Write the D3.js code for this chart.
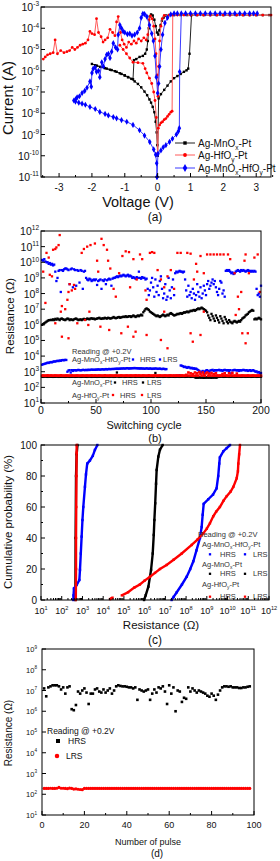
<!DOCTYPE html>
<html>
<head>
<meta charset="utf-8">
<script src="https://cdn.jsdelivr.net/npm/d3@7"></script>
<style>
  body { margin: 0; background: #fff; }
  svg { display: block; font-family: "Liberation Sans", Arial, sans-serif; }
</style>
</head>
<body>
<div id="chart"></div>
<script>
// ---------- DATA (log10 values) ----------

// (a) I-V sweeps: [voltage, log10 current], null = break in the line
const ivBlack = [
  [0,-10.0],[0.03,-7.3],[0.1,-7.1],[0.2,-6.9],[0.3,-6.7],[0.4,-6.5],[0.5,-6.35],[0.6,-6.25],[0.7,-6.15],[0.8,-6.05],[0.88,-5.98],[0.93,-5.9],[0.97,-5.2],[1.03,-3.38],
  [1.2,-3.38],[1.4,-3.38],[1.6,-3.38],[1.8,-3.38],[2.0,-3.38],[2.2,-3.38],[2.4,-3.38],[2.6,-3.38],[2.8,-3.38],[3.0,-3.38],[3.2,-3.38],[3.4,-3.38],
  null,
  [0.9,-3.38],[0.7,-3.38],[0.5,-3.38],[0.35,-3.38],[0.25,-3.4],[0.18,-3.5],[0.13,-3.65],[0.09,-3.85],[0.05,-4.1],[0.02,-4.3],[-0.02,-4.2],[-0.06,-3.9],[-0.1,-3.6],[-0.15,-3.4],[-0.2,-3.35],[-0.24,-3.45],[-0.27,-4.0],[-0.3,-4.6],[-0.33,-5.0],[-0.38,-5.2],[-0.45,-5.3],[-0.55,-5.35],[-0.65,-5.45],[-0.72,-5.5],
  [-0.75,-6.4],[-0.9,-6.3],[-1.0,-6.22],[-1.1,-6.15],[-1.25,-6.05],[-1.4,-5.97],[-1.55,-5.9],[-1.7,-5.82],[-1.85,-5.76],[-2.0,-5.68],
  [-1.9,-5.74],[-1.75,-5.82],[-1.6,-5.88],[-1.45,-5.95],[-1.3,-6.02],[-1.15,-6.12],[-1.0,-6.22],[-0.9,-6.3],[-0.8,-6.38],[-0.7,-6.5],[-0.6,-6.62],[-0.5,-6.78],[-0.4,-6.98],[-0.32,-7.15],[-0.25,-7.35],[-0.2,-7.5],[-0.15,-7.7],[-0.1,-7.95],[-0.06,-8.4],[-0.03,-8.9],[-0.01,-9.5],[0,-10.0]
];
const ivRed = [
  [0,-9.9],[0.02,-8.7],[0.06,-8.55],[0.1,-8.45],[0.15,-8.4],[0.2,-8.3],[0.25,-8.25],[0.3,-8.15],[0.35,-8.05],[0.4,-7.95],[0.44,-7.9],[0.46,-3.38],
  [0.6,-3.38],[0.8,-3.38],[1.0,-3.38],[1.2,-3.38],[1.4,-3.38],[1.6,-3.38],[1.8,-3.38],[2.0,-3.38],[2.2,-3.38],[2.4,-3.38],[2.6,-3.38],[2.8,-3.38],[3.0,-3.38],[3.2,-3.38],[3.45,-3.38],
  null,
  [0.35,-3.38],[0.2,-3.4],[0.14,-3.55],[0.1,-3.9],[0.06,-4.6],[0.03,-5.8],[0.01,-7.2],[-0.02,-6.2],[-0.05,-5.2],[-0.08,-4.5],[-0.12,-3.9],[-0.17,-3.55],[-0.22,-3.42],[-0.26,-3.6],[-0.3,-4.3],[-0.35,-4.55],[-0.42,-4.45],[-0.5,-4.6],[-0.58,-4.5],[-0.65,-4.7],[-0.72,-4.6],[-0.8,-4.75],[-0.88,-4.65],[-0.95,-4.9],[-1.02,-4.75],[-1.08,-4.55],[-1.13,-4.2],[-1.2,-3.45],[-1.25,-3.7],[-1.3,-4.35],[-1.37,-4.2],[-1.45,-4.05],[-1.52,-4.45],[-1.6,-4.55],[-1.66,-4.65],[-1.72,-4.4],[-1.8,-4.2],[-1.86,-3.55],[-1.92,-4.3],[-2.0,-4.25],[-2.06,-4.15],[-2.12,-4.55],[-2.2,-4.7],[-2.28,-4.75],[-2.36,-4.8],[-2.44,-4.9],[-2.52,-5.0],[-2.6,-4.9],[-2.68,-5.05],[-2.76,-5.1],[-2.85,-5.15],[-2.95,-5.05],[-3.05,-5.2],[-3.12,-4.55],[-3.18,-5.15],[-3.27,-5.2],[-3.35,-5.25],[-3.42,-5.35],[-3.48,-5.45],
  null,
  [-1.15,-4.8],[-1.05,-5.0],[-0.95,-5.2],[-0.85,-5.4],[-0.75,-5.6],[-0.6,-5.62],[-0.45,-5.65],[-0.38,-5.9],[-0.33,-6.1],[-0.25,-6.35],[-0.18,-6.6],[-0.12,-7.0],[-0.08,-7.4],[-0.04,-8.2],[0,-9.9]
];
const ivBlue = [
  [-0.02,-11],[0.01,-9.9],[0.1,-9.75],[0.17,-9.6],[0.25,-9.5],[0.36,-9.35],[0.45,-9.2],[0.57,-9.0],[0.63,-8.85],[0.66,-8.7],[0.67,-6.05],[0.72,-3.3],
  [0.85,-3.3],[1.0,-3.3],[1.15,-3.3],[1.3,-3.3],[1.45,-3.3],[1.6,-3.3],[1.75,-3.3],[1.9,-3.3],[2.05,-3.3],[2.2,-3.3],[2.35,-3.3],[2.5,-3.3],[2.65,-3.3],[2.8,-3.3],[2.92,-3.3],[3.03,-3.3],
  null,
  [0.6,-3.3],[0.5,-3.3],[0.4,-3.35],[0.3,-3.5],[0.22,-3.75],[0.15,-4.3],[0.1,-5.0],[0.06,-5.8],[0.03,-6.6],[0.0,-7.05],[-0.04,-6.3],[-0.08,-5.3],[-0.13,-4.6],[-0.18,-4.25],[-0.25,-3.85],[-0.33,-3.45],[-0.4,-3.33],[-0.45,-3.32],[-0.5,-3.5],[-0.55,-4.0],[-0.62,-4.2],[-0.7,-4.3],[-0.78,-4.35],[-0.85,-4.25],[-0.92,-4.28],[-1.0,-4.2],[-1.05,-4.15],[-1.1,-4.0],[-1.15,-3.85],[-1.2,-4.3],[-1.22,-5.0],[-1.28,-4.9],[-1.35,-4.7],[-1.4,-5.1],[-1.45,-5.4],[-1.5,-5.2],[-1.55,-5.25],[-1.6,-5.45],[-1.65,-5.8],[-1.7,-5.6],[-1.76,-6.3],[-1.8,-6.0],[-1.86,-6.05],[-1.9,-5.85],[-1.96,-5.9],[-2.0,-6.1],[-2.02,-6.75],[-2.06,-6.5],[-2.15,-6.8],[-2.22,-6.95],[-2.3,-7.05],[-2.38,-7.2],[-2.45,-7.25],[-2.5,-7.35],[-2.55,-7.4],
  [-2.5,-7.45],[-2.4,-7.5],[-2.3,-7.55],[-2.2,-7.6],[-2.06,-7.7],[-1.9,-7.8],[-1.76,-7.94],[-1.6,-8.03],[-1.5,-8.1],[-1.35,-8.18],[-1.25,-8.24],[-1.1,-8.32],[-0.94,-8.4],[-0.75,-8.55],[-0.55,-8.8],[-0.4,-9.05],[-0.24,-9.35],[-0.12,-9.7],[-0.06,-9.95],[-0.03,-10.35],[-0.02,-11]
];
const deviceNames = ["Ag-MnO_x-Pt", "Ag-HfO_y-Pt", "Ag-MnO_x-HfO_y-Pt"];

// (b) endurance, log10 resistance per cycle 1..200
const blueHrsB = [
  10.15,10.1,10.2,10.05,10.0,10.0,9.9,9.95,9.85,9.9,9.8,9.85,
  9.4,8.8,9.0,
  9.45,9.5,8.1,9.5,9.45,9.55,9.6,9.6,9.55,9.5,8.6,9.55,9.6,8.4,9.55,9.5,8.5,9.5,9.45,8.7,9.5,9.45,8.3,9.4,9.45,
  9.0,8.9,8.85,8.95,8.9,8.8,8.85,8.9,8.85,8.9,8.55,8.8,8.85,8.9,8.3,8.85,8.8,8.9,8.6,8.85,8.9,8.95,8.9,8.5,8.95,9.0,
  9.0,9.05,9.1,9.05,9.1,9.15,9.1,9.15,9.2,9.15,9.1,9.15,9.2,9.1,9.15,9.1,9.0,9.05,9.0,8.95,9.05,9.0,9.4,9.0,8.95,9.05,9.0,9.0,8.9,8.95,
  8.3,7.9,8.2,8.7,9.0,8.4,7.8,8.9,8.1,8.5,7.9,8.8,9.1,8.3,7.7,8.0,8.6,7.6,7.8,9.0,8.2,7.7,8.4,8.9,7.9,9.3,9.4,9.35,9.4,9.45,9.4,
  9.4,9.35,9.4,8.9,8.2,7.8,8.5,7.9,8.1,7.7,8.3,8.0,7.6,7.9,8.6,8.1,7.8,8.4,7.7,8.0,8.5,8.2,7.9,8.6,8.8,8.3,8.5,8.7,8.9,8.6,8.8,8.4,8.1,7.9,8.3,8.8,8.7,8.0,8.2,7.8,
  9.45,9.5,9.45,9.5,9.4,9.3,9.35,9.25,9.3,9.4,9.45,9.5,9.45,9.4,9.5,9.45,9.5,9.45,9.4,9.45,9.5,9.45,9.45,9.4,9.45,9.4,9.45,9.4,8.3,7.9,8.0,7.8,8.5
];
const blueLrsB = [
  3.45,3.48,3.5,3.52,3.55,3.58,3.56,3.6,3.62,3.6,3.64,3.66,3.65,3.68,3.7,3.68,3.72,3.7,3.74,3.75,3.73,3.76,3.75,
  3.0,3.08,3.1,2.95,3.1,3.05,3.1,
  3.1,3.08,3.1,3.12,3.1,3.09,3.1,3.12,3.11,3.1,3.12,3.1,3.13,3.11,3.12,3.14,3.12,3.13,3.12,3.14,
  3.13,3.15,3.14,3.13,3.15,3.16,3.14,3.15,3.17,3.15,3.16,3.18,3.16,3.17,3.18,3.17,3.19,3.18,3.2,3.18,
  3.2,3.19,3.21,3.2,3.22,3.2,3.21,3.23,3.22,3.2,3.22,3.21,3.23,3.22,3.24,3.22,3.23,3.21,3.22,3.2,
  3.22,3.2,3.21,3.19,3.2,3.22,3.2,3.19,3.21,3.2,3.18,3.2,3.19,3.21,3.2,3.18,3.19,3.2,3.18,3.17,3.19,3.18,3.16,3.17,
  2.72,2.7,2.75,2.7,2.72,2.68,2.74,2.7,2.72,2.75,2.7,2.78,
  3.4,3.38,3.35,3.3,3.32,3.28,3.25,3.3,3.27,3.22,3.25,3.2,3.22,3.18,3.2,3.15,
  3.1,3.05,2.95,3.0,3.05,2.9,3.02,3.08,3.1,3.05,3.0,3.08,3.1,3.12,3.05,3.1,3.08,3.1,
  3.1,3.12,3.08,3.1,3.05,3.1,3.12,3.1,3.08,3.1,3.05,3.1,2.9,3.08,3.1,3.12,3.1,3.08,3.1,3.05,
  3.1,3.08,3.1,3.12,3.1,3.08,3.1,3.05,3.08,3.1,3.05,3.08,3.1,3.05,3.0,3.02,2.95,2.98,2.9,2.92
];
const blackHrsB = [
  6.0,6.05,6.1,6.15,6.2,6.25,6.3,6.3,6.32,6.3,
  6.35,6.3,6.38,6.33,6.4,6.35,6.3,6.38,6.4,6.35,6.33,6.3,6.35,6.4,6.38,6.3,6.35,6.33,6.3,6.35,6.38,6.4,6.35,6.3,6.33,6.35,6.3,6.35,6.38,6.33,
  6.35,6.4,6.38,6.35,6.4,6.42,6.38,6.4,6.35,6.38,6.4,6.42,6.45,6.4,6.38,6.42,6.4,6.45,6.42,6.4,6.45,6.43,6.4,6.42,6.45,6.5,6.45,6.42,6.45,6.48,6.5,6.45,6.48,6.5,6.52,6.5,6.55,6.5,6.52,6.55,
  6.55,6.5,6.55,6.6,6.55,6.5,6.55,6.6,6.55,6.6,6.65,6.6,6.8,6.9,7.0,7.05,7.0,6.95,6.85,6.8,6.75,6.7,6.65,6.6,6.55,6.6,6.55,6.5,6.55,6.6,6.65,6.6,6.55,6.6,6.65,6.6,6.7,6.75,6.7,6.65,
  6.6,6.62,6.65,6.7,6.68,6.72,6.75,6.7,6.75,6.8,6.78,6.82,6.85,6.8,6.85,6.9,6.88,6.92,6.95,6.9,6.95,7.0,7.05,7.0,7.05,7.1,7.05,7.0,6.95,6.9,
  6.8,6.6,6.45,6.3,6.7,6.55,6.4,6.25,6.6,6.45,
  6.3,6.15,6.55,6.4,6.25,6.1,6.5,6.35,6.2,6.1,6.3,6.2,6.15,6.1,6.2,6.25,6.2,6.15,6.2,6.25,6.2,6.3,6.4,6.45,6.5,6.6,6.65,6.7,6.8,6.85,6.9,6.95,6.9,6.35,6.4,6.35,6.4,6.45,6.4,6.35
];
const blackLrsB = [
  2.68,2.67,2.68,2.69,2.68,2.67,2.68,2.68,2.69,2.68,2.67,2.68,2.68,2.69,2.68,2.67,2.68,2.68,2.69,2.68,
  2.68,2.67,2.68,2.69,2.68,2.67,2.68,2.68,2.69,2.68,2.67,2.68,2.68,2.69,2.68,2.67,2.68,2.68,2.69,2.68,
  2.68,2.67,2.68,2.69,2.68,2.67,2.68,2.68,2.69,2.68,2.67,2.68,2.68,2.69,2.68,2.67,2.68,2.68,2.69,2.68,
  2.68,2.67,2.68,2.69,2.68,2.67,2.68,2.68,2.95,2.68,2.67,2.68,2.68,2.69,2.68,2.67,2.68,2.68,2.69,2.68,
  2.68,2.67,2.68,2.69,2.68,2.67,2.68,2.68,2.69,2.68,2.67,2.68,2.68,2.69,2.68,2.67,2.68,2.68,2.69,2.68,
  2.68,2.67,2.68,2.92,2.68,2.67,2.68,2.68,2.69,2.68,2.67,2.68,2.68,2.69,2.68,2.67,2.68,2.68,2.69,2.68,
  2.68,2.67,2.68,2.69,2.68,2.67,2.68,2.68,2.69,2.68,2.67,2.68,2.68,2.69,2.68,2.67,2.68,2.68,2.69,2.64,
  2.62,2.63,2.62,2.64,2.62,2.63,2.62,2.61,2.63,2.62,2.64,2.62,2.63,2.62,2.61,2.63,2.62,2.64,2.62,2.63,
  2.68,2.67,2.68,2.69,2.68,2.67,2.68,2.68,2.69,2.68,2.67,2.68,2.68,2.69,2.68,2.67,2.68,2.68,2.69,2.68,
  2.68,2.67,2.68,2.69,2.68,2.67,2.68,2.68,2.69,2.68,2.67,2.68,2.68,2.69,2.68,2.67,2.68,2.68,2.69,2.68
];
const redLrsB = [
  2.75,2.76,2.74,2.75,2.75,2.77,2.74,2.75,2.76,2.75,2.74,2.75,2.76,2.75,2.75,2.74,2.75,2.77,2.75,2.74,
  2.75,2.74,2.76,2.75,2.75,2.74,2.75,2.76,2.75,2.74,2.75,2.75,2.76,2.75,2.74,2.75,2.75,2.76,2.74,2.75,
  2.75,2.76,2.74,2.75,2.75,2.77,2.74,2.75,2.76,2.75,2.74,2.75,2.76,2.75,2.75,2.74,2.75,2.77,2.75,2.74,
  2.75,2.74,2.76,2.75,2.75,2.74,2.75,2.76,2.75,2.74,2.75,2.75,2.76,2.75,2.74,2.75,2.75,2.76,2.74,2.75,
  2.75,2.76,2.74,2.75,2.75,2.77,2.74,2.75,2.76,2.75,2.74,2.75,2.76,2.75,2.75,2.74,2.75,2.77,2.75,2.74,
  2.75,2.74,2.76,2.75,2.75,2.74,2.75,2.76,2.75,2.74,2.75,2.75,2.76,2.75,2.74,2.75,2.75,2.76,2.74,2.75,
  2.75,2.74,2.76,2.75,2.75,2.74,2.75,2.76,2.75,2.74,2.75,2.8,2.76,2.95,2.75,2.9,2.75,2.85,2.74,2.95,
  2.76,2.9,2.75,2.98,2.85,2.75,2.95,2.8,2.75,2.9,2.95,2.75,2.88,2.76,2.92,2.75,2.85,2.75,2.9,2.76,
  2.75,2.74,2.76,2.75,2.85,2.75,2.9,2.76,2.75,2.74,2.9,2.75,2.76,2.92,2.75,2.74,2.75,2.88,2.75,2.74,
  2.75,2.74,2.76,2.75,2.75,2.74,2.75,2.76,2.75,2.74,2.75,2.75,2.76,2.75,2.74,2.75,2.75,2.76,2.74,2.75
];
// red HRS is scattered: [cycle, log10 R]
const redHrsB = [
  [2,9.4],[4,7.4],[5,10.6],[7,10.3],[8,9.2],[10,9.1],[11,10.8],[13,10.85],[14,10.95],[16,11.1],[17,11.74],[19,7.2],[22,7.0],[24,7.6],[25,8.1],[26,8.6],[28,8.2],[30,8.55],[31,8.3],
  [37,10.6],[39,10.85],[42,11.0],[45,11.1],[49,11.2],[51,10.1],[52,9.4],[55,11.5],[57,11.1],[60,10.8],[61,10.1],[63,9.6],[66,8.3],[68,7.8],[71,9.3],[74,10.4],[77,10.7],[80,10.65],
  [81,8.4],[84,10.2],[87,8.9],[90,10.5],[92,10.2],[95,8.2],[96,7.6],[99,10.6],[101,10.65],[103,10.6],[106,9.5],[109,8.9],[112,8.4],[115,9.1],[118,9.5],[121,8.3],[124,10.6],[127,10.6],
  [133,10.6],[136,10.55],[139,8.9],[141,9.9],[142,9.4],[145,10.4],[148,9.3],[151,10.5],[154,10.5],[157,10.5],[160,10.5],[163,10.5],[166,10.5],[170,10.5],[172,10.2],[176,9.3],
  [179,7.8],[180,7.0],[182,8.1],[185,10.1],[186,10.5],[189,9.3],[194,10.3],[197,10.5],[199,8.1],
  [13,6.1],[19,5.24],[25,5.14],[33,6.1],[40,6.31],[43,5.99],[54,5.88],[62,5.67],[73,5.46],[79,5.88],[84,5.24],[86,5.56],[96,5.35],[109,5.03],[115,4.5],
  [136,5.46],[138,4.92],[145,5.35],[177,6.63],[183,5.46],[186,4.82],[188,5.46],[18,6.84],[44,6.84],[112,6.84],[148,6.84]
];

// (c) cumulative probability: [log10 R, percent]
const cdfBlueLrs = [[2.56,0],[2.57,3],[2.59,7.5],[2.72,9.7],[2.85,12.9],[2.88,19.4],[2.92,30],[2.96,40.9],[3.0,51.6],[3.04,60],[3.12,73],[3.17,81],[3.23,88],[3.36,90],[3.5,93],[3.6,96.8],[3.72,100]];
const cdfRedLrs = [[2.68,0],[2.69,20],[2.69,40],[2.7,60],[2.71,80],[2.72,95],[2.72,100]];
const cdfBlackLrs = [[2.66,0],[2.67,40],[2.69,80],[2.72,94],[2.76,100]];
const cdfBlackHrs = [[5.97,0],[6.05,3],[6.18,8.6],[6.31,19.4],[6.39,30],[6.44,42],[6.47,51.6],[6.51,62.4],[6.55,75],[6.58,83.9],[6.66,92.5],[6.74,97],[6.87,100]];
const cdfBlueHrs = [[7.3,0],[7.4,2],[7.55,5],[7.8,10],[8.03,15],[8.2,20],[8.35,25],[8.5,32],[8.67,40],[8.75,47],[8.8,55],[8.85,62],[9.07,65],[9.3,68],[9.47,72],[9.55,80],[9.6,88],[9.63,92],[9.8,96],[9.96,98],[10.12,100]];
const cdfRedHrs = [[4.33,0.6],[4.4,1],[4.45,1.5],null,[4.9,3],[5.2,5],[5.5,8],[5.77,10],[6.0,12.5],[6.26,15],[6.5,17.5],[6.74,20],[7.06,22.6],[7.4,26],[7.79,30],[8.27,35.5],[8.55,39],[8.83,43],[9.0,46],[9.15,49.5],[9.31,54],[9.45,57],[9.63,60],[9.8,64],[9.96,67],[10.15,70],[10.28,73],[10.44,78.5],[10.5,83],[10.52,88],[10.56,94],[10.6,100]];

// (d) pulse test, log10 resistance per pulse 1..98
const hrsD = [
  7.1,6.72,7.15,7.2,7.25,7.25,7.25,7.2,7.05,7.15,6.85,7.15,7.2,6.1,6.05,6.3,6.95,6.85,7.0,7.1,
  6.9,6.35,6.85,6.85,7.05,7.1,6.95,6.9,7.05,6.9,7.0,7.1,6.85,7.0,7.2,7.25,7.22,7.2,7.2,7.18,
  7.15,7.15,7.1,7.15,6.55,7.05,7.0,6.95,7.0,7.05,6.55,6.85,7.05,6.9,7.15,7.1,7.2,6.95,6.35,7.25,
  6.85,7.15,6.0,7.0,6.95,6.45,6.65,6.6,7.15,6.95,7.1,7.0,6.9,7.0,6.95,6.9,6.85,6.75,6.7,6.85,
  6.75,6.55,6.8,7.0,7.15,7.2,7.2,7.18,7.2,7.15,7.15,7.15,7.12,7.12,7.15,7.15,7.18,7.2
];
const lrsD = [
  2.28,2.28,2.28,2.29,2.28,2.28,2.29,2.33,2.29,2.29,2.28,2.27,2.3,2.28,2.25,2.26,2.24,2.23,2.22,2.28,
  2.28,2.28,2.28,2.28,2.28,2.28,2.28,2.28,2.28,2.28,2.28,2.28,2.28,2.28,2.28,2.28,2.28,2.28,2.28,2.28,
  2.28,2.28,2.28,2.28,2.28,2.28,2.28,2.28,2.28,2.28,2.28,2.28,2.28,2.28,2.28,2.28,2.28,2.28,2.28,2.28,
  2.28,2.28,2.28,2.28,2.28,2.28,2.28,2.28,2.28,2.28,2.28,2.28,2.28,2.28,2.28,2.28,2.28,2.28,2.28,2.28,
  2.28,2.28,2.28,2.28,2.28,2.28,2.28,2.28,2.28,2.28,2.28,2.28,2.28,2.28,2.28,2.28,2.28,2.28
];

// ticks
const decadesA = [-11,-10,-9,-8,-7,-6,-5,-4,-3];
const voltTicks = [-3,-2,-1,0,1,2,3];
const decadesB = [1,2,3,4,5,6,7,8,9,10,11,12];
const cycleTicks = [0,50,100,150,200];
const probTicks = [0,20,40,60,80,100];
const decadesC = [1,2,3,4,5,6,7,8,9,10,11,12];
const decadesD = [1,2,3,4,5,6,7,8,9];
const pulseTicks = [0,20,40,60,80,100];

// ---------- LAYOUT ----------
const A = {left: 41, right: 271, top: 7, bottom: 177};
const B = {left: 41, right: 261, top: 231, bottom: 403};
const C = {left: 41, right: 269, top: 445, bottom: 600};
const D = {left: 42, right: 254, top: 649, bottom: 815};

const RED = "#ff0000", BLUE = "#0000ff", BLACK = "#000";
const p10 = v => Math.pow(10, v);

const svg = d3.select("#chart").append("svg").attr("width", 280).attr("height", 861);

// ---------- HELPERS ----------
function tick(x1, y1, x2, y2) {
  svg.append("line").attr("x1", x1).attr("y1", y1).attr("x2", x2).attr("y2", y2)
    .attr("stroke", "#000").attr("stroke-width", 1);
}
function frame(b) {
  svg.append("rect").attr("x", b.left).attr("y", b.top)
    .attr("width", b.right - b.left).attr("height", b.bottom - b.top)
    .attr("fill", "none").attr("stroke", "#000").attr("stroke-width", 1);
}
function powLabel(x, y, exp, fs, anchor) {
  const t = svg.append("text").attr("x", x).attr("y", y).attr("font-size", fs)
    .attr("text-anchor", anchor).attr("fill", "#111");
  t.append("tspan").text("10");
  t.append("tspan").attr("dy", -fs * 0.45).attr("font-size", fs * 0.62).text(exp);
}
function label(x, y, str, fs, anchor, fill) {
  return svg.append("text").attr("x", x).attr("y", y).attr("font-size", fs)
    .attr("text-anchor", anchor || "start").attr("fill", fill || "#111").text(str);
}
function vlabel(x, y, str, fs) {
  svg.append("text").attr("transform", `translate(${x},${y}) rotate(-90)`)
    .attr("font-size", fs).attr("text-anchor", "middle").attr("fill", "#111").text(str);
}
// "_x" -> subscript x
function rich(x, y, str, fs, fill) {
  const t = svg.append("text").attr("x", x).attr("y", y).attr("font-size", fs).attr("fill", fill || "#111");
  str.split(/_(\w)/).forEach((p, i) => {
    if (i % 2 === 1) t.append("tspan").attr("dy", fs * 0.3).attr("font-size", fs * 0.65).text(p);
    else if (p) t.append("tspan").attr("dy", i ? -fs * 0.3 : 0).text(p);
  });
}
function marks(pts, shape, s, color) {
  const g = svg.append("g").attr("fill", color);
  if (shape === "square") {
    g.selectAll("rect").data(pts).join("rect")
      .attr("x", d => d[0] - s / 2).attr("y", d => d[1] - s / 2).attr("width", s).attr("height", s);
  } else if (shape === "circle") {
    g.selectAll("circle").data(pts).join("circle")
      .attr("cx", d => d[0]).attr("cy", d => d[1]).attr("r", s / 2);
  } else {
    const sym = d3.symbol(d3.symbolDiamond, s * s * 0.7)();
    g.selectAll("path").data(pts).join("path").attr("d", sym)
      .attr("transform", d => `translate(${d[0]},${d[1]})`);
  }
}

// =================== (a) ===================
const xA = d3.scaleLinear().domain([-3.55, 3.45]).range([A.left, A.right]);
const yA = d3.scaleLog().domain([1e-11, 1e-3]).range([A.bottom, A.top]);

const ivSeries = [
  {data: ivBlack, line: "#222", mark: BLACK, shape: "square", s: 2.4},
  {data: ivRed, line: "#ff5a5a", mark: RED, shape: "circle", s: 2.8},
  {data: ivBlue, line: "#3a3aff", mark: BLUE, shape: "diamond", s: 4}
];
const lineA = d3.line().defined(d => d !== null).x(d => xA(d[0])).y(d => yA(p10(d[1])));
ivSeries.forEach(s => {
  svg.append("path").datum(s.data).attr("d", lineA)
    .attr("fill", "none").attr("stroke", s.line).attr("stroke-width", 1);
  marks(s.data.filter(d => d).map(d => [xA(d[0]), yA(p10(d[1]))]), s.shape, s.s, s.mark);
});

decadesA.forEach(e => {
  const yy = yA(p10(e));
  tick(A.left, yy, A.left + 4, yy);
  powLabel(A.left - 2, yy + 4, e, 10.5, "end");
});
voltTicks.forEach(v => {
  tick(xA(v), A.bottom, xA(v), A.bottom - 4);
  label(xA(v), 191, String(v), 10, "middle");
});
d3.range(-3.5, 3.6, 1).forEach(v => tick(xA(v), A.bottom, xA(v), A.bottom - 2));
label(138, 206.5, "Voltage (V)", 14.5, "middle");
vlabel(13, 98, "Current (A)", 15);
label(155, 221, "(a)", 12, "middle");

// legend (a)
[143, 155, 168].forEach((yy, i) => {
  const s = ivSeries[i];
  svg.append("line").attr("x1", 175).attr("x2", 195).attr("y1", yy).attr("y2", yy)
    .attr("stroke", s.line).attr("stroke-width", 1);
  marks([[185, yy]], s.shape, s.s + 1, s.mark);
  rich(198, yy + 3.5, deviceNames[i], 10);
});
frame(A);

// =================== (b) ===================
const xB = d3.scaleLinear().domain([0, 200]).range([B.left, B.right]);
const yB = d3.scaleLog().domain([10, 1e12]).range([B.bottom, B.top]);
const byCycle = arr => arr.map((v, i) => [xB(i + 1), yB(p10(v))]);

marks(byCycle(blueHrsB), "square", 2.3, BLUE);
marks(byCycle(blueLrsB), "square", 2.3, BLUE);
marks(byCycle(blackHrsB), "square", 2.3, BLACK);
marks(byCycle(blackLrsB), "square", 2.3, BLACK);
marks(redHrsB.map(d => [xB(d[0]), yB(p10(d[1]))]), "square", 2.3, RED);
marks(byCycle(redLrsB), "square", 2.6, RED);

decadesB.forEach(e => {
  const yy = yB(p10(e));
  tick(B.left, yy, B.left + 4, yy);
  powLabel(B.left - 2, yy + 4, e, 10.5, "end");
});
cycleTicks.forEach(v => {
  tick(xB(v), B.bottom, xB(v), B.bottom - 4);
  label(xB(v), 414, String(v), 10.5, "middle");
});
[25, 75, 125, 175].forEach(v => tick(xB(v), B.bottom, xB(v), B.bottom - 2));
label(144, 428.5, "Switching cycle", 11, "middle");
vlabel(14, 316, "Resistance (\u03A9)", 11.5);
label(155, 442, "(b)", 11, "middle");

// legend (b)
const legFs = 7.5, legCol = "#333";
label(72, 353.5, "Reading @ +0.2V", legFs, "start", legCol);
const legB = [
  {y: 362, name: deviceNames[2], c: BLUE, m1: 133, t1: 140, m2: 160, t2: 163},
  {y: 385, name: deviceNames[0], c: BLACK, m1: 115, t1: 122, m2: 143, t2: 147},
  {y: 397.5, name: deviceNames[1], c: RED, m1: 113, t1: 120, m2: 142, t2: 147}
];
legB.forEach(r => {
  rich(72, r.y, r.name, legFs, legCol);
  marks([[r.m1, r.y - 2.5], [r.m2, r.y - 2.5]], "square", 2.3, r.c);
  label(r.t1, r.y, "HRS", legFs, "start", legCol);
  label(r.t2, r.y, "LRS", legFs, "start", legCol);
});
frame(B);

// =================== (c) ===================
const xC = d3.scaleLog().domain([10, 1e12]).range([C.left, C.right]);
const yC = d3.scaleLinear().domain([0, 100]).range([C.bottom, C.top]);
const lineC = d3.line().defined(d => d !== null).x(d => xC(p10(d[0]))).y(d => yC(d[1]));
const cdfSeries = [
  {d: cdfBlackHrs, c: BLACK}, {d: cdfBlackLrs, c: BLACK},
  {d: cdfBlueHrs, c: BLUE}, {d: cdfBlueLrs, c: BLUE},
  {d: cdfRedHrs, c: RED}, {d: cdfRedLrs, c: RED}
];
cdfSeries.forEach(s => {
  svg.append("path").datum(s.d).attr("d", lineC)
    .attr("fill", "none").attr("stroke", s.c).attr("stroke-width", 2.4);
  marks(s.d.filter(d => d).map(d => [xC(p10(d[0])), yC(d[1])]), "square", 2.4, s.c);
});

probTicks.forEach(v => {
  tick(C.left, yC(v), C.left + 4, yC(v));
  label(C.left - 4, yC(v) + 3.5, String(v), 10, "end");
});
[10, 30, 50, 70, 90].forEach(v => tick(C.left, yC(v), C.left + 2, yC(v)));
decadesC.forEach(e => {
  const xx = xC(p10(e));
  tick(xx, C.bottom, xx, C.bottom - 4);
  powLabel(xx, 614, e, 9, "middle");
  if (e < 12) [2, 3, 4, 5, 6, 7, 8, 9].forEach(k => {
    const xm = xC(k * p10(e));
    tick(xm, C.bottom, xm, C.bottom - 2);
  });
});
label(161, 629, "Resistance (\u03A9)", 11.5, "middle");
vlabel(12, 522, "Cumulative probability (%)", 11.5);
label(155, 644, "(c)", 12, "middle");

// legend (c)
label(198, 537, "Reading @ +0.2V", legFs, "start", legCol);
[
  {y: 547, name: deviceNames[2], c: BLUE},
  {y: 566.5, name: deviceNames[0], c: BLACK},
  {y: 587, name: deviceNames[1], c: RED}
].forEach((r, i) => {
  rich(202, r.y, r.name, legFs, legCol);
  const my = r.y + (i === 2 ? 9.7 : 7.3);
  marks([[210, my], [245, my]], "square", 2.3, r.c);
  label(220, my + 2.5, "HRS", legFs, "start", legCol);
  label(253, my + 2.5, "LRS", legFs, "start", legCol);
});
frame(C);

// =================== (d) ===================
const xD = d3.scaleLinear().domain([0, 100]).range([D.left, D.right]);
const yD = d3.scaleLog().domain([10, 1e9]).range([D.bottom, D.top]);
marks(lrsD.map((v, i) => [xD(i + 1), yD(p10(v))]), "circle", 3.2, RED);
marks(hrsD.map((v, i) => [xD(i + 1), yD(p10(v))]), "square", 2.6, BLACK);

decadesD.forEach(e => {
  const yy = yD(p10(e));
  tick(D.left, yy, D.left + 4, yy);
  powLabel(D.left - 5, yy + 3, e, 7.5, "end");
});
pulseTicks.forEach(v => {
  tick(xD(v), D.bottom, xD(v), D.bottom - 4);
  label(xD(v), 828, String(v), 9, "middle");
});
[10, 30, 50, 70, 90].forEach(v => tick(xD(v), D.bottom, xD(v), D.bottom - 2));
label(148, 845, "Number of pulse", 9, "middle");
vlabel(12, 733, "Resistance (\u03A9)", 10);
label(157, 857, "(d)", 10, "middle");

label(47, 733.5, "Reading @ +0.2V", 8.5);
marks([[58, 741]], "square", 4, BLACK);
label(68, 744, "HRS", 8.5);
marks([[57, 756]], "circle", 4.5, RED);
label(66, 759, "LRS", 8.5);
frame(D);
</script>
</body>
</html>
